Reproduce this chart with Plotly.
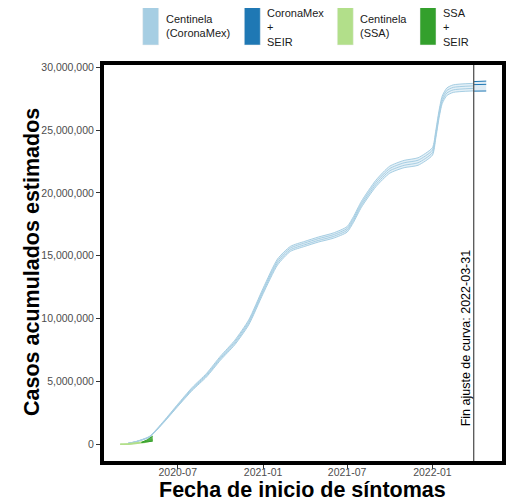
import plotly.graph_objects as go

# -------------------------------
# DATA (millones de casos)
# -------------------------------

fechas_cm = ['2020-03-16', '2020-04-01', '2020-05-01', '2020-06-01', '2020-07-01',
             '2020-08-01', '2020-09-01', '2020-10-01', '2020-11-01', '2020-12-01',
             '2021-01-01', '2021-02-01', '2021-03-01', '2021-04-01', '2021-05-01',
             '2021-06-01', '2021-07-01', '2021-07-15', '2021-08-01', '2021-09-01',
             '2021-10-01', '2021-11-01', '2021-12-01', '2022-01-01', '2022-01-08',
             '2022-01-15', '2022-01-22', '2022-02-01', '2022-02-15', '2022-03-31']
cm_lo95 = [0.08, 0.19, 0.57, 1.74, 3.01, 4.28, 5.36, 6.69, 7.92, 9.50, 11.98, 14.26,
           15.35, 15.75, 16.10, 16.39, 16.88, 17.67, 18.86, 20.49, 21.57, 22.01,
           22.20, 23.00, 24.30, 25.90, 27.10, 27.75, 28.00, 28.12]
cm_lo50 = [0.08, 0.20, 0.59, 1.78, 3.07, 4.36, 5.45, 6.80, 8.04, 9.63, 12.13, 14.42,
           15.48, 15.88, 16.23, 16.53, 17.03, 17.82, 19.02, 20.66, 21.76, 22.20,
           22.40, 23.20, 24.50, 26.10, 27.30, 27.95, 28.20, 28.32]
cm_hi50 = [0.08, 0.20, 0.61, 1.82, 3.13, 4.44, 5.55, 6.90, 8.16, 9.77, 12.27, 14.58,
           15.62, 16.02, 16.37, 16.67, 17.17, 17.98, 19.18, 20.84, 21.94, 22.40,
           22.60, 23.40, 24.70, 26.30, 27.50, 28.15, 28.40, 28.52]
cm_hi95 = [0.08, 0.21, 0.63, 1.86, 3.19, 4.52, 5.64, 7.01, 8.28, 9.90, 12.42, 14.74,
           15.75, 16.15, 16.50, 16.81, 17.32, 18.13, 19.34, 21.01, 22.13, 22.59,
           22.80, 23.60, 24.90, 26.50, 27.70, 28.35, 28.60, 28.72]

fechas_seir = ['2022-03-31', '2022-04-13', '2022-04-27']
seir_lo = [28.10, 28.11, 28.11]
seir_mid = [28.62, 28.64, 28.64]
seir_hi = [28.86, 28.89, 28.90]

fechas_ssa = ['2020-02-28', '2020-03-15', '2020-04-01', '2020-04-15', '2020-05-01', '2020-05-08']
ssa_lo = [0.00, 0.01, 0.06, 0.12, 0.24, 0.31]
ssa_hi = [0.01, 0.03, 0.10, 0.18, 0.32, 0.40]

fechas_ssa_seir = ['2020-04-14', '2020-04-26', '2020-05-08']
ssa_seir_lo = [0.14, 0.20, 0.25]
ssa_seir_hi = [0.15, 0.35, 0.65]

fin_ajuste = '2022-03-31'

y_ticks = [0, 5e6, 10e6, 15e6, 20e6, 25e6, 30e6]
x_ticks = ['2020-07-01', '2021-01-01', '2021-07-01', '2022-01-01']
x_labels = ['2020-07', '2021-01', '2021-07', '2022-01']

leyenda = [('#A6CEE3', 'Centinela<br>(CoronaMex)'),
           ('#1F78B4', 'CoronaMex<br>+<br>SEIR'),
           ('#B2DF8A', 'Centinela<br>(SSA)'),
           ('#33A02C', 'SSA<br>+<br>SEIR')]

# -------------------------------
# FIGURE
# -------------------------------

OFF = 8  # margen del body de la pagina
W, H = 525 - OFF, 502 - OFF
ML, MR, MT, MB = 96, 23, 57, 41


def px(x):
    # pixel de la pagina -> fraccion del papel
    return (x - OFF - ML) / (W - ML - MR)


def py(y):
    return (H - MB - (y - OFF)) / (H - MT - MB)


def M(v):
    return [a * 1e6 for a in v]


fig = go.Figure()


def banda(x, curvas, color, fill, shape='linear', width=1):
    for i, c in enumerate(curvas):
        fig.add_trace(go.Scatter(
            x=x, y=M(c), mode='lines',
            line=dict(color=color, width=width, shape=shape, smoothing=0.6),
            fill=None if i == 0 else 'tonexty', fillcolor=fill,
            showlegend=False, hoverinfo='skip'))


banda(fechas_cm, [cm_lo95, cm_lo50, cm_hi50, cm_hi95], '#A6CEE3', 'rgba(166,206,227,0.3)', 'spline')
banda(fechas_seir, [seir_lo, seir_mid, seir_hi], '#1F78B4', 'rgba(31,120,180,0.15)')
banda(fechas_ssa, [ssa_lo, ssa_hi], '#B2DF8A', 'rgba(178,223,138,0.6)', 'spline', 1.5)
banda(fechas_ssa_seir, [ssa_seir_lo, ssa_seir_hi], '#33A02C', 'rgba(51,160,44,0.8)')

# linea de fin de ajuste
fig.add_shape(type='line', xref='x', yref='paper', x0=fin_ajuste, x1=fin_ajuste, y0=0, y1=1,
              line=dict(color='#555555', width=1.3))
fig.add_annotation(x='2022-03-12', y=8.5e6, xref='x', yref='y', text='Fin ajuste de curva: 2022-03-31',
                   textangle=-90, showarrow=False, xanchor='center', yanchor='middle', xshift=2,
                   font=dict(size=12.5, color='black'))

# -------------------------------
# LEYENDA (manual, arriba)
# -------------------------------

rect_x = [142.7, 244.3, 337.3, 420]
for (color, texto), x0 in zip(leyenda, rect_x):
    fig.add_shape(type='rect', xref='paper', yref='paper', x0=px(x0), x1=px(x0 + 16),
                  y0=py(45), y1=py(6), fillcolor=color, line=dict(color='#eeeeee', width=0.5))
    fig.add_annotation(x=px(x0 + 22), y=py(27.5 if '+' in texto else 26.5), xref='paper', yref='paper',
                       text=texto, showarrow=False, xanchor='left', yanchor='middle', align='left',
                       borderpad=0, font=dict(size=11, color='#1a1a1a'))

# -------------------------------
# TITULOS DE EJES
# -------------------------------

fig.add_annotation(x=px(302.7), y=py(490), xref='paper', yref='paper',
                   text='<b>Fecha de inicio de síntomas</b>', showarrow=False,
                   xanchor='center', yanchor='middle', font=dict(size=21.5, color='black'))
fig.add_annotation(x=px(32), y=py(262), xref='paper', yref='paper',
                   text='<b>Casos acumulados estimados</b>', showarrow=False, textangle=-90,
                   xanchor='center', yanchor='middle', font=dict(size=21.5, color='black'))

# -------------------------------
# LAYOUT
# -------------------------------

eje = dict(showline=True, linecolor='black', linewidth=4, mirror=True, showgrid=False,
           zeroline=False, ticks='outside', ticklen=4, tickcolor='#333333', tickwidth=1,
           automargin=False,
           tickfont=dict(size=10.5, color='#4d4d4d', family='Liberation Sans, Arial'))

fig.update_layout(
    width=W, height=H,
    margin=dict(l=ML, r=MR, t=MT, b=MB),
    plot_bgcolor='white', paper_bgcolor='white',
    font=dict(family='Liberation Sans, Arial', color='black'),
    xaxis=dict(eje, range=['2020-01-24', '2022-05-31'], tickvals=x_ticks, ticktext=x_labels,
               ticklabelstandoff=-6),
    yaxis=dict(eje, range=[-1.33e6, 30.18e6], tickvals=y_ticks, tickformat=',d'),
)

fig.write_html("out.html")
